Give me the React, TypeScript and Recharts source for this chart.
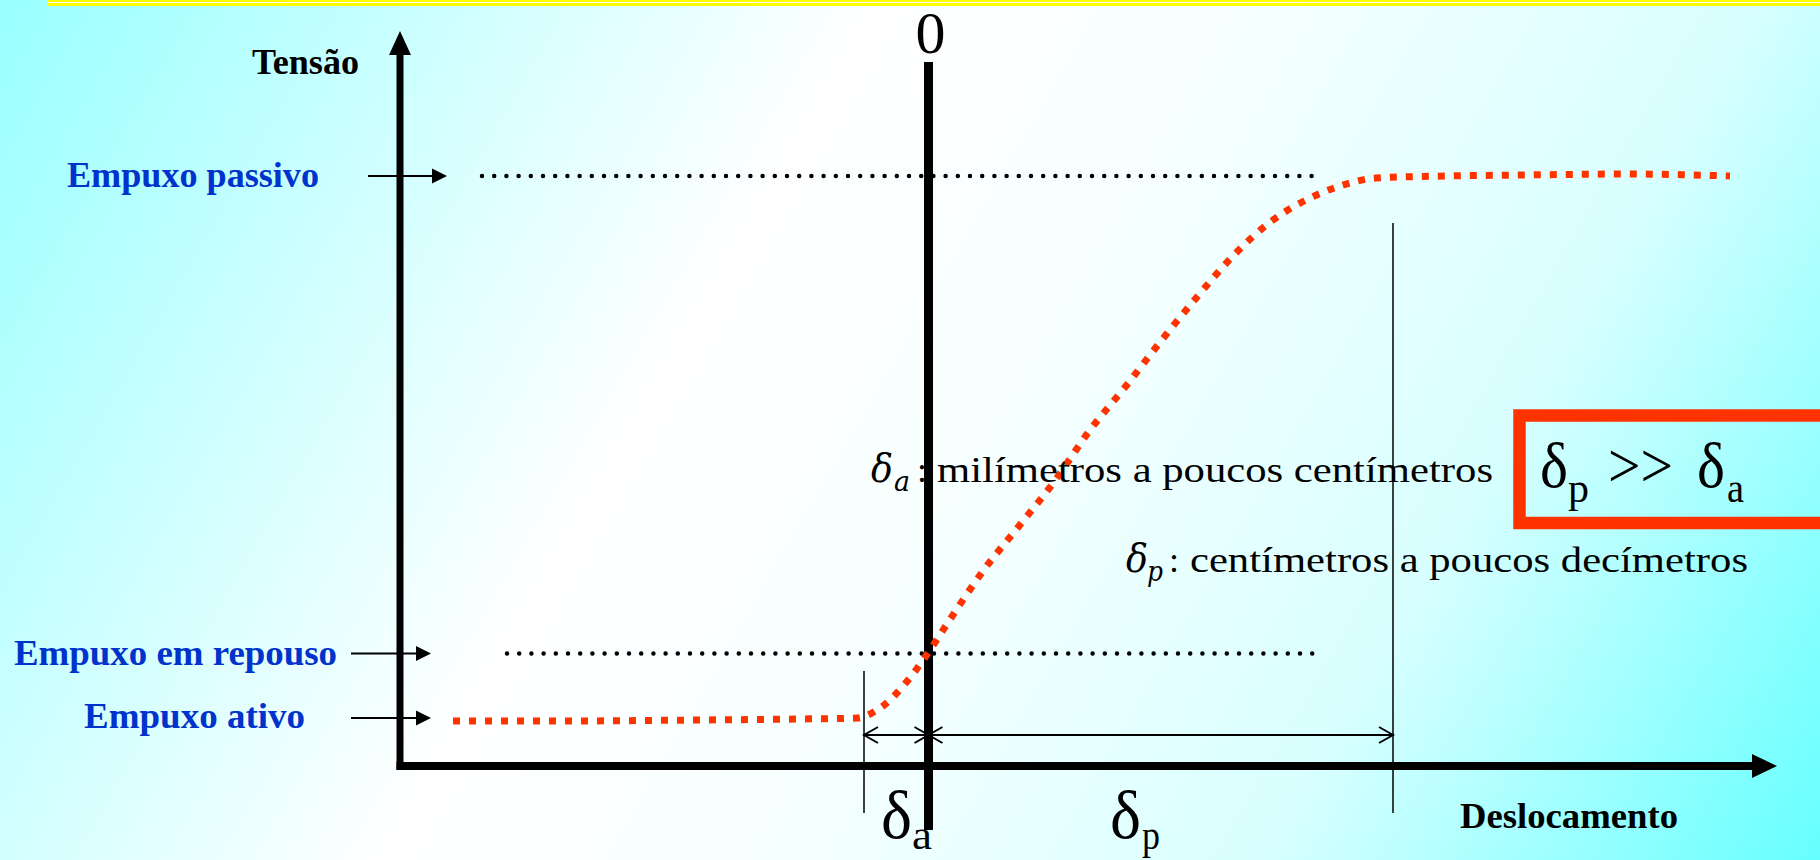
import React from "react";
import { ComposedChart, Line, XAxis, YAxis, ReferenceLine, ReferenceArea, ReferenceDot } from "recharts";

// Tensão x deslocamento (unidades arbitrárias, 0 = parede em repouso)
const curveX = [-47.5, -36.8, -22.8, -12.8, -7.0, -5.8, -4.5, -2.4, -0.2, 1.9, 5.5, 9.1, 12.6, 16.2, 19.8, 23.3, 26.9, 30.5, 34.1, 37.6, 41.2, 44.8, 51.7, 59.5, 70.0, 80.2];
const curveY = [4.5, 4.5, 4.6, 4.7, 4.8, 5.2, 6.0, 8.1, 11.0, 14.2, 19.5, 24.0, 28.4, 33.6, 38.0, 42.5, 46.9, 51.0, 54.3, 56.5, 58.0, 58.8, 59.0, 59.1, 59.2, 59.0];

const levelNames = ["Empuxo passivo", "Empuxo em repouso", "Empuxo ativo"];
const levelValues = [59.0, 11.25, 4.8];

const axisTitles = ["Tensão", "Deslocamento"];
const deltaA = -6.4;
const deltaP = 46.5;
const deltaNotes = ["milímetros a poucos centímetros", "centímetros a poucos decímetros"];

const data = curveX.map((x, i) => ({ x, y: curveY[i] }));

const RED = "#ff3300";
const BLUE = "#0033cc";
const SERIF = "'Liberation Serif', 'Times New Roman', serif";
const MATH = "'DejaVu Serif', 'Liberation Serif', serif";

type ArrowOpts = { head?: "solid" | "open"; both?: boolean; len?: number; half?: number; width: number; color?: string; dash?: string; cap?: "round" | "butt" };

const arrowShape = (o: ArrowOpts) => (p: any) => {
  const { x1, y1, x2, y2 } = p;
  const color = o.color ?? "#000";
  const len = o.len ?? 0;
  const half = o.half ?? 0;
  const d = Math.hypot(x2 - x1, y2 - y1) || 1;
  const ux = (x2 - x1) / d;
  const uy = (y2 - y1) / d;
  const headAt = (tx: number, ty: number, sx: number, sy: number, key: string) => {
    const bx = tx - sx * len;
    const by = ty - sy * len;
    const pts = `${bx - sy * half},${by + sx * half} ${tx},${ty} ${bx + sy * half},${by - sx * half}`;
    return o.head === "solid" ? (
      <polygon key={key} points={pts} fill={color} />
    ) : (
      <polyline key={key} points={pts} fill="none" stroke={color} strokeWidth={o.width} strokeLinejoin="miter" />
    );
  };
  let sx = x1, sy = y1, ex = x2, ey = y2;
  if (o.head === "solid") {
    ex = x2 - ux * len * 0.9;
    ey = y2 - uy * len * 0.9;
    if (o.both) {
      sx = x1 + ux * len * 0.9;
      sy = y1 + uy * len * 0.9;
    }
  }
  return (
    <g>
      <line x1={sx} y1={sy} x2={ex} y2={ey} stroke={color} strokeWidth={o.width} strokeDasharray={o.dash} strokeLinecap={o.cap ?? "butt"} />
      {o.head && headAt(x2, y2, ux, uy, "e")}
      {o.head && o.both && headAt(x1, y1, -ux, -uy, "s")}
    </g>
  );
};

type TextOpts = { size: number; bold?: boolean; italic?: boolean; color?: string; fit?: number; anchor?: "start" | "middle"; font?: string };

const caption = (key: string, text: string, x: number, y: number, t: TextOpts) => (
  <ReferenceDot
    key={key}
    x={x}
    y={y}
    r={0}
    ifOverflow="visible"
    shape={(p: any) => (
      <text
        x={p.cx}
        y={p.cy}
        fontFamily={t.font ?? SERIF}
        fontSize={t.size}
        fontWeight={t.bold ? "bold" : "normal"}
        fontStyle={t.italic ? "italic" : "normal"}
        fill={t.color ?? "#000"}
        textAnchor={t.anchor ?? "start"}
        textLength={t.fit}
        lengthAdjust={t.fit ? "spacingAndGlyphs" : undefined}
      >
        {text}
      </text>
    )}
  />
);

const seg = (key: string, a: [number, number], b: [number, number], o: ArrowOpts) => (
  <ReferenceLine
    key={key}
    segment={[{ x: a[0], y: a[1] }, { x: b[0], y: b[1] }]}
    ifOverflow="visible"
    shape={arrowShape(o)}
  />
);

export default function App() {
  const labelX = [-86.1, -91.4, -84.4];
  const labelY = [57.9, 10.1, 3.8];
  const labelFit = [252, 323, 221];
  return (
    <div
      style={{
        position: "fixed",
        left: 0,
        top: 0,
        width: 1820,
        height: 860,
        overflow: "hidden",
        background: "linear-gradient(120deg, #99ffff 0%, #ffffff 38%, #f6ffff 55%, #d8ffff 76%, #66ffff 100%)",
      }}
    >
      <div style={{ position: "absolute", left: 48, right: 0, top: 0, height: 6, background: "#ffffff" }} />
      <div style={{ position: "absolute", left: 48, right: 0, top: 0, height: 1.7, background: "#ffff00" }} />
      <div style={{ position: "absolute", left: 48, right: 0, top: 3.3, height: 2.7, background: "#ffff00" }} />
      <div style={{ position: "absolute", left: 0, top: 0 }}>
        <ComposedChart width={1820} height={860} data={data} margin={{ top: 0, right: 0, bottom: 0, left: 0 }}>
          <XAxis type="number" dataKey="x" domain={[-92.8, 89.2]} hide allowDataOverflow />
          <YAxis type="number" domain={[-9.4, 76.6]} hide allowDataOverflow />

          {/* níveis de empuxo */}
          {seg("dot-p", [-44.6, levelValues[0]], [38.5, levelValues[0]], { width: 4.5, dash: "0 12.2", cap: "round" })}
          {seg("dot-r", [-42.1, levelValues[1]], [38.5, levelValues[1]], { width: 4.5, dash: "0 12.2", cap: "round" })}
          {levelNames.map((name, i) =>
            seg(`arr-${i}`, [i === 0 ? -56 : -57.7, levelValues[i]], [i === 0 ? -48.1 : -49.7, levelValues[i]], {
              head: "solid",
              len: 15,
              half: 7.5,
              width: 2,
            })
          )}
          {levelNames.map((name, i) =>
            caption(`lab-${i}`, name, labelX[i], labelY[i], { size: 36, bold: true, color: BLUE, fit: labelFit[i] })
          )}

          {/* eixos */}
          {seg("yaxis", [-52.8, -0.4], [-52.8, 73.5], { head: "solid", len: 24, half: 11, width: 7 })}
          {seg("xaxis", [-53.15, 0], [84.9, 0], { head: "solid", len: 25, half: 12, width: 8 })}
          {seg("zero", [0.05, -6.4], [0.05, 70.4], { width: 9 })}
          {seg("da-line", [deltaA, -4.7], [deltaA, 9.5], { width: 1.5 })}
          {seg("dp-line", [deltaP, -4.7], [deltaP, 54.3], { width: 1.5 })}
          {seg("da-span", [deltaA, 3.1], [0.05, 3.1], { head: "open", both: true, len: 14, half: 8, width: 2 })}
          {seg("dp-span", [0.05, 3.1], [deltaP, 3.1], { head: "open", both: true, len: 14, half: 8, width: 2 })}

          <Line
            type="monotone"
            dataKey="y"
            stroke={RED}
            strokeWidth={7}
            strokeDasharray="7 9"
            dot={false}
            activeDot={false}
            isAnimationActive={false}
          />

          {caption("t-tensao", axisTitles[0], -67.6, 69.2, { size: 36, bold: true, fit: 107 })}
          {caption("t-desl", axisTitles[1], 53.2, -6.2, { size: 36, bold: true, fit: 218 })}
          {caption("t-zero", "0", 0.25, 71.3, { size: 60, anchor: "middle" })}

          {caption("b-da", "δ", -4.7, -7.2, { size: 68, fit: 31 })}
          {caption("b-da-s", "a", -1.6, -8.3, { size: 40, fit: 20 })}
          {caption("b-dp", "δ", 18.2, -7.2, { size: 68, fit: 31 })}
          {caption("b-dp-s", "p", 21.4, -8.3, { size: 40, fit: 18 })}

          {caption("n1-d", "δ", -5.7, 28.4, { size: 40, italic: true, font: MATH, fit: 22 })}
          {caption("n1-s", "a", -3.4, 27.5, { size: 28, italic: true, font: MATH, fit: 16 })}
          {caption("n1-c", ":", -1.1, 28.4, { size: 36 })}
          {caption("n1-t", deltaNotes[0], 0.9, 28.4, { size: 35, fit: 556 })}
          {caption("n2-d", "δ", 19.8, 19.4, { size: 40, italic: true, font: MATH, fit: 22 })}
          {caption("n2-s", "p", 21.9, 18.5, { size: 28, italic: true, font: MATH, fit: 16 })}
          {caption("n2-c", ":", 24.1, 19.4, { size: 36 })}
          {caption("n2-t", deltaNotes[1], 26.2, 19.4, { size: 35, fit: 558 })}

          <ReferenceArea x1={59.15} x2={90} y1={24.3} y2={35.05} fill="none" stroke={RED} strokeWidth={12.5} ifOverflow="visible" />
          {caption("box-d1", "δ", 61.2, 27.9, { size: 64, fit: 28 })}
          {caption("box-s1", "p", 64.0, 26.4, { size: 42, fit: 21 })}
          {caption("box-gg", ">>", 68.0, 27.9, { size: 64, fit: 65 })}
          {caption("box-d2", "δ", 76.9, 27.9, { size: 64, fit: 28 })}
          {caption("box-s2", "a", 79.9, 26.4, { size: 42, fit: 17 })}
        </ComposedChart>
      </div>
    </div>
  );
}
